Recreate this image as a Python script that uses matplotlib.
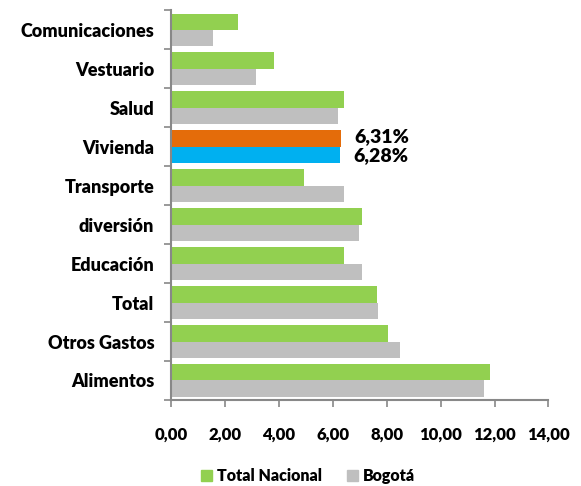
import numpy as np
import matplotlib
matplotlib.use('Agg')
import matplotlib.pyplot as plt
from matplotlib.patches import Patch

plt.rcParams['font.family'] = ['Lato', 'DejaVu Sans']
plt.rcParams['font.weight'] = 'heavy'

# data, top to bottom
categories = ['Comunicaciones', 'Vestuario', 'Salud', 'Vivienda', 'Transporte',
              'diversión', 'Educación', 'Total', 'Otros Gastos', 'Alimentos']
total_nacional = [2.50, 3.81, 6.41, 6.31, 4.93, 7.08, 6.41, 7.63, 8.05, 11.83]
bogota = [1.56, 3.14, 6.19, 6.28, 6.41, 6.96, 7.08, 7.67, 8.50, 11.60]
highlight = 'Vivienda'
xticks = [0, 2, 4, 6, 8, 10, 12, 14]

GREEN = '#92D050'
GRAY = '#BFBFBF'
ORANGE = '#E46C0A'
BLUE = '#00B0F0'
AXIS = '#888888'
W = 'heavy'

fig = plt.figure(figsize=(5.81, 4.86), dpi=100)
ax = fig.add_axes([0.2943, 0.177, 0.944 - 0.2943, 0.802])

y = np.arange(len(categories))
h = 0.415
c_tn = [ORANGE if c == highlight else GREEN for c in categories]
c_bo = [BLUE if c == highlight else GRAY for c in categories]
ax.barh(y - h / 2, total_nacional, height=h, color=c_tn)
ax.barh(y + h / 2, bogota, height=h, color=c_bo)

# value labels for highlighted category
i = categories.index(highlight)
ax.text(total_nacional[i] + 0.5, y[i] - h / 2 - 0.06, f'{total_nacional[i]:.2f}%'.replace('.', ','),
        va='center', ha='left', fontsize=14, fontweight=W)
ax.text(bogota[i] + 0.5, y[i] + h / 2 + 0.02, f'{bogota[i]:.2f}%'.replace('.', ','),
        va='center', ha='left', fontsize=14, fontweight=W)

ax.set_ylim(len(categories) - 0.5, -0.5)
ax.set_xlim(0, 14)

ax.set_yticks(y)
ax.set_yticklabels(categories, fontsize=13, fontweight=W)
ax.set_yticks(np.arange(-0.5, len(categories)), minor=True)
ax.tick_params(axis='y', which='major', length=0, pad=12)
ax.tick_params(axis='y', which='minor', length=5, color=AXIS, width=1.2)

ax.set_xticks(xticks)
ax.set_xticklabels([f'{v:.2f}'.replace('.', ',') for v in xticks], fontsize=12, fontweight=W)
ax.tick_params(axis='x', length=5, color=AXIS, width=1.2, pad=14)

for s in ['top', 'right']:
    ax.spines[s].set_visible(False)
for s in ['left', 'bottom']:
    ax.spines[s].set_color(AXIS)
    ax.spines[s].set_linewidth(1.5)

handles = [Patch(color=GREEN, label='Total Nacional'), Patch(color=GRAY, label='Bogotá')]
fig.legend(handles=handles, loc='center', bbox_to_anchor=(0.53, 0.02), ncol=2,
           frameon=False, prop={'size': 11.5, 'weight': W},
           handlelength=0.7, handleheight=0.7, handletextpad=0.3, columnspacing=1.6)

fig.savefig('out.png', dpi=100)
